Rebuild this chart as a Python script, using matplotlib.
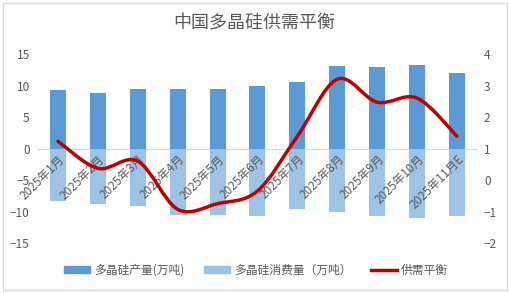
import numpy as np
import matplotlib.pyplot as plt
from matplotlib.path import Path
from matplotlib.patches import PathPatch, Rectangle
from matplotlib.lines import Line2D

plt.rcParams['font.family'] = ['Noto Sans CJK SC', 'DejaVu Sans']

# data
months = ['2025年1月', '2025年2月', '2025年3月', '2025年4月', '2025年5月', '2025年6月',
          '2025年7月', '2025年8月', '2025年9月', '2025年10月', '2025年11月E']
production = [9.3, 8.85, 9.5, 9.5, 9.5, 9.95, 10.6, 13.1, 12.95, 13.3, 12.0]
consumption = [-8.4, -8.8, -9.1, -10.5, -10.5, -10.7, -9.6, -10.1, -10.7, -11.05, -10.7]
balance = [1.23, 0.37, 0.6, -0.93, -0.75, -0.35, 1.39, 3.2, 2.47, 2.6, 1.39]

text_col = '#595959'
c_prod = '#5B9BD5'
c_cons = '#9DC3E6'
c_line = '#C00000'

fig = plt.figure(figsize=(5.09, 2.93), dpi=100)
ax = fig.add_axes([0.0747, 0.1706, 0.8623, 0.6451])
x = np.arange(len(months))

ax.bar(x, production, width=0.4, color=c_prod, zorder=1.2)
ax.bar(x, consumption, width=0.4, color=c_cons, zorder=1.2)
ax.set_xlim(-0.5, len(months) - 0.5)
ax.set_ylim(-15, 15)
ax.set_yticks(range(-15, 16, 5))
ax.set_axisbelow(False)  # labels over the bars

for s in ['top', 'right', 'left']:
    ax.spines[s].set_visible(False)
ax.spines['bottom'].set_position(('data', 0))
ax.spines['bottom'].set_color('#d9d9d9')
ax.spines['bottom'].set_zorder(1)
ax.set_xticks(x)
ax.set_xticklabels(months, rotation=45, ha='right', rotation_mode='anchor',
                   fontsize=8.5, color=text_col)
ax.tick_params(axis='x', length=0, pad=3)
ax.tick_params(axis='y', length=0, labelsize=8.5, labelcolor=text_col, pad=6)

ax2 = ax.twinx()
ax2.set_ylim(-2, 4)
ax2.set_yticks(range(-2, 5))
for s in ax2.spines.values():
    s.set_visible(False)
ax2.tick_params(axis='y', length=0, labelsize=8.5, labelcolor=text_col, pad=5)

# smoothed line (bezier segments like the spreadsheet's smooth line)
pts = np.column_stack([x, balance]).astype(float)
verts = [pts[0]]
codes = [Path.MOVETO]
n = len(pts)
for i in range(n - 1):
    p0 = pts[i - 1] if i > 0 else pts[i]
    p1 = pts[i]
    p2 = pts[i + 1]
    p3 = pts[i + 2] if i + 2 < n else pts[i + 1]
    c1 = p1 + (p2 - p0) / 6
    c2 = p2 - (p3 - p1) / 6
    verts += [c1, c2, p2]
    codes += [Path.CURVE4] * 3
ax2.add_patch(PathPatch(Path(verts, codes), facecolor='none', edgecolor=c_line,
                        lw=2.5, capstyle='round', joinstyle='round', zorder=3))

fig.text(0.5, 1 - 24 / 293, '中国多晶硅供需平衡', ha='center', va='center',
         fontsize=13, color=text_col)

handles = [Rectangle((0, 0), 1, 1, color=c_prod),
           Rectangle((0, 0), 1, 1, color=c_cons),
           Line2D([], [], color=c_line, lw=2.5)]
labels = ['多晶硅产量(万吨)', '多晶硅消费量（万吨）', '供需平衡']
fig.legend(handles, labels, loc='center', bbox_to_anchor=(0.503, 1 - 270 / 293),
           ncol=3, frameon=False, fontsize=8.5, handlelength=2.2, handleheight=0.55,
           columnspacing=1.7, handletextpad=0.3, labelcolor=text_col)

fig.patches.append(Rectangle((3 / 509, 3 / 293), 504 / 509, 287 / 293,
                             transform=fig.transFigure, fill=False,
                             edgecolor='#d9d9d9', lw=1))

fig.savefig('out.png', dpi=100)
